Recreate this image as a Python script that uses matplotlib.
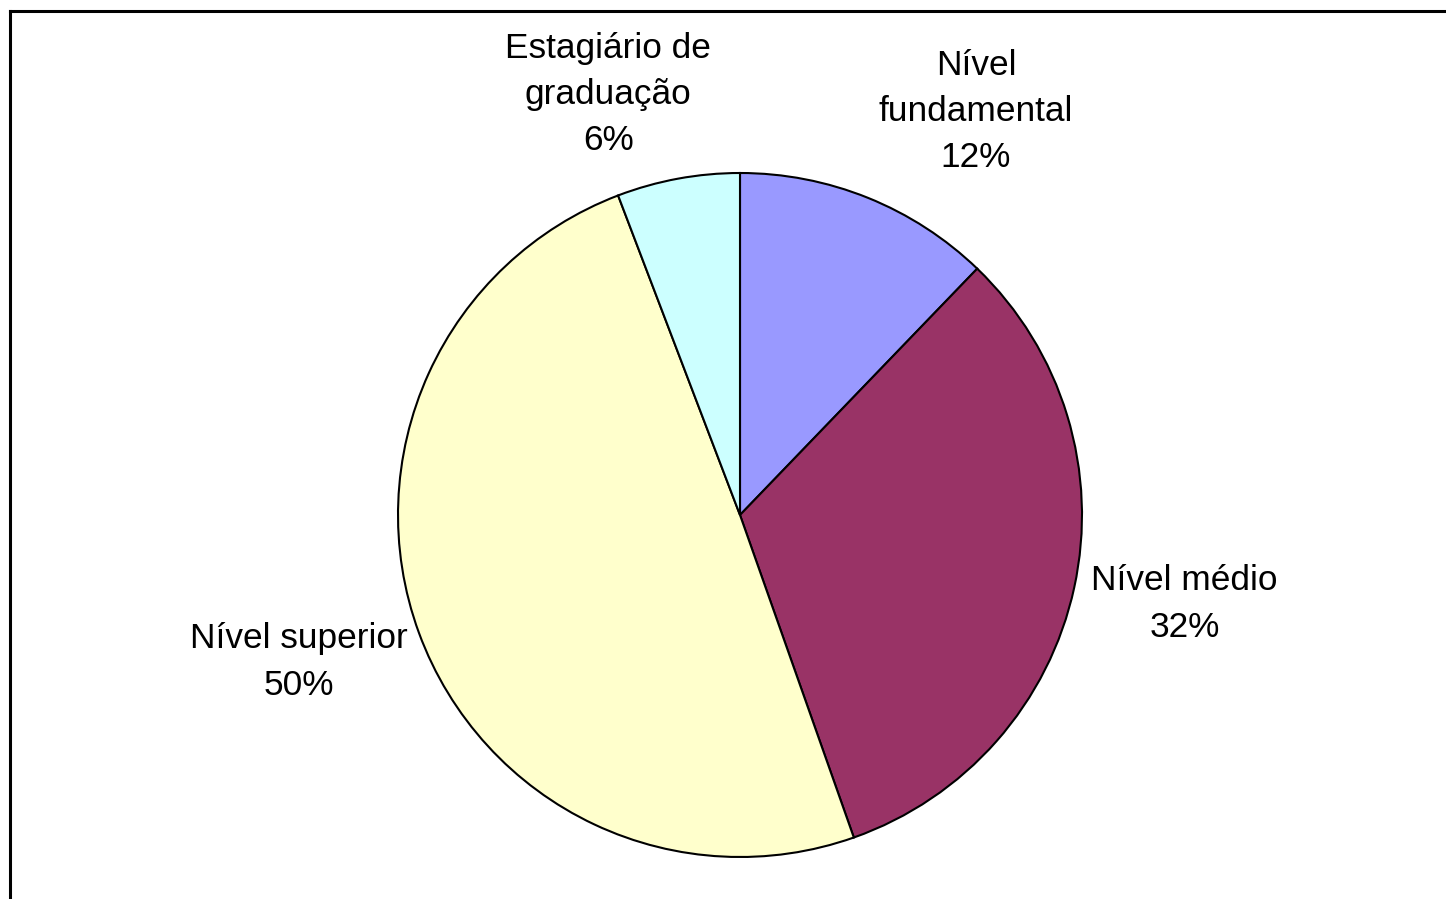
import matplotlib.pyplot as plt
from matplotlib.lines import Line2D

plt.rcParams['font.family'] = ['Liberation Sans', 'DejaVu Sans']

# data
categories = ["Nível\nfundamental", "Nível médio", "Nível superior", "Estagiário de\ngraduação"]
shares = [12.2, 32.4, 49.6, 5.8]
colors = ["#9999FF", "#993366", "#FFFFCC", "#CCFFFF"]

# label centres, in units of the pie radius (layout only)
label_pos = [(0.69, 1.18), (1.30, -0.26), (-1.29, -0.43), (-0.385, 1.23)]

W, H = 1446, 899
fig = plt.figure(figsize=(W / 100, H / 100), dpi=100)

cx, cy, r = 740, 515, 342
ax = fig.add_axes([(cx - r) / W, (H - cy - r) / H, 2 * r / W, 2 * r / H])

wedges, _ = ax.pie(shares, colors=colors, startangle=90, counterclock=False,
                   wedgeprops=dict(edgecolor='black', linewidth=1.5))
ax.set_xlim(-1, 1)
ax.set_ylim(-1, 1)
ax.set_aspect('equal')
ax.axis('off')

for name, val, (lx, ly) in zip(categories, shares, label_pos):
    ax.text(lx, ly, f"{name}\n{round(val)}%", ha='center', va='center',
            fontsize=25.4, linespacing=1.51, clip_on=False)

# chart frame (only top and left edges visible)
fig.add_artist(Line2D([10 / W, 1], [1 - 11 / H, 1 - 11 / H], color='black', linewidth=2.2,
                      transform=fig.transFigure))
fig.add_artist(Line2D([10 / W, 10 / W], [0, 1 - 11 / H], color='black', linewidth=2.2,
                      transform=fig.transFigure))

fig.savefig("out.png", dpi=100, facecolor='white')
